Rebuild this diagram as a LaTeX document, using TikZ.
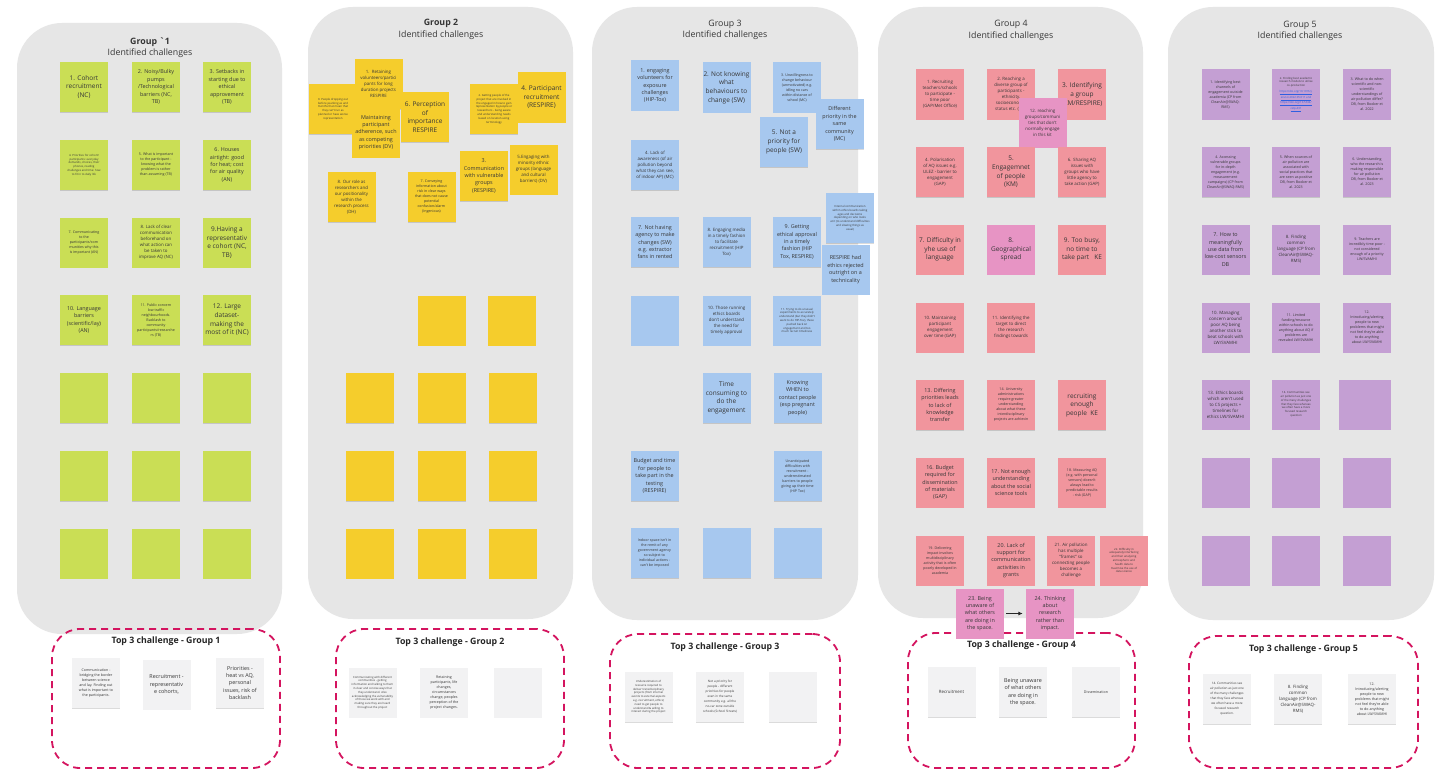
\documentclass[tikz,border=0pt]{standalone}
\usepackage{fontspec}
\setmainfont{Open Sans}
\usetikzlibrary{arrows.meta,shadows}
\definecolor{panelg}{HTML}{E6E6E6}
\definecolor{gnote}{HTML}{CADE55}
\definecolor{ynote}{HTML}{F5CD2C}
\definecolor{bnote}{HTML}{A7C8EF}
\definecolor{rnote}{HTML}{F1959D}
\definecolor{pnote}{HTML}{E794C4}
\definecolor{vnote}{HTML}{C49FD3}
\definecolor{wnote}{HTML}{F2F2F3}
\definecolor{dashm}{HTML}{D4145F}
\definecolor{txt}{HTML}{363636}
\definecolor{linkb}{HTML}{2F5FE0}
\tikzset{
  fB/.style={font=\fontsize{6.5}{8.6}\selectfont},
  fM/.style={font=\fontsize{5.4}{7.4}\selectfont},
  fS/.style={font=\fontsize{4.4}{6.0}\selectfont},
  fT/.style={font=\fontsize{3.6}{5.0}\selectfont},
  fV/.style={font=\fontsize{3.1}{5.0}\selectfont},
  fU/.style={font=\fontsize{2.8}{3.8}\selectfont},
  panel/.style={fill=panelg, rounded corners=45, inner sep=0},
  gttl/.style={align=flush center, text=txt, font=\fontsize{8.8}{11.5}\selectfont, inner sep=0},
  tttl/.style={text=black!85, font=\bfseries\fontsize{8.8}{10}\selectfont, inner sep=0},
  note/.style={minimum width=48, minimum height=50, inner sep=1, text width=46, align=flush center, text=txt,
    drop shadow={shadow xshift=0.3pt, shadow yshift=-0.9pt, opacity=0.14, fill=black}},
  gn/.style={note, fill=gnote},
  yn/.style={note, fill=ynote},
  bn/.style={note, fill=bnote},
  rn/.style={note, fill=rnote},
  pn/.style={note, fill=pnote},
  vn/.style={note, fill=vnote},
  wn/.style={note, fill=wnote},
  topbox/.style={draw=dashm, line width=1.8, dash pattern=on 7pt off 5pt, rounded corners=28, inner sep=0},
  arr/.style={-{Latex[length=4.5pt,width=4pt]}, line width=1.1, black!85, shorten <=2pt, shorten >=3pt}
}
\begin{document}
\begin{tikzpicture}[x=1pt,y=-1pt]
\useasboundingbox[fill=white] (0,0) rectangle (1435,776);
% ---------- panels ----------
\node[panel, minimum width=265, minimum height=611] (g1) at (149.5,328.5) {};
\node[panel, minimum width=265, minimum height=612] (g2) at (440.5,313) {};
\node[panel, minimum width=266, minimum height=613] (g3) at (725,313.5) {};
\node[panel, minimum width=265, minimum height=611] (g4) at (1010.5,312.5) {};
\node[panel, minimum width=266, minimum height=613] (g5) at (1301,313.5) {};
% ---------- Top 3 boxes ----------
\node[topbox, minimum width=228, minimum height=139] (t1) at (166,698.5) {};
\node[topbox, minimum width=228, minimum height=139] (t2) at (450,698.5) {};
\node[topbox, minimum width=230, minimum height=134] (t3) at (725,701) {};
\node[topbox, minimum width=227, minimum height=135] (t4) at (1021.5,700.5) {};
\node[topbox, minimum width=229, minimum height=132] (t5) at (1303.5,702) {};
% ---------- titles ----------
\node[gttl] (h1) at (150,47.5) {\textbf{Group \textasciigrave1}\\Identified challenges};
\node[gttl] (h2) at (441,29.5) {\textbf{Group 2}\\Identified challenges};
\node[gttl] (h3) at (725,30) {Group 3\\Identified challenges};
\node[gttl] (h4) at (1011,30.5) {Group 4\\Identified challenges};
\node[gttl] (h5) at (1300,31) {Group 5\\Identified challenges};
% ---------- Group 1 ----------
\node[gn,fB] (a1) at (84,87) {1. Cohort\\recruitment\\(NC)};
\node[gn,fM] (a2) at (156,87) {2. Noisy/Bulky\\pumps\\/Technological\\barriers (NC,\\TB)};
\node[gn,fM] (a3) at (227,87) {3. Setbacks in\\starting due to\\ethical\\approvement\\(TB)};
\node[gn,fU] (a4) at (84,165) {4. Priorities for cohort/\\participants: everyday\\demands, choices, their\\phones, reading\\challenges and time: how\\to fit in to daily life};
\node[gn,fT] (a5) at (156,165) {5. What is important\\to the participant -\\knowing what the\\problem is rather\\than assuming (TB)};
\node[gn,fM] (a6) at (227,165) {6. Houses\\airtight: good\\for heat; cost\\for air quality\\(AN)};
\node[gn,fT] (a7) at (84,242.5) {7. Communicating\\to the\\participants/com\\munities why this\\is important (AN)};
\node[gn,fS] (a8) at (156,242.5) {8. Lack of clear\\communication\\beforehand on\\what action can\\be taken to\\improve AQ (NC)};
\node[gn,fB] (a9) at (227,242.5) {9.Having a\\representativ\\e cohort (NC,\\TB)};
\node[gn,fM] (a10) at (84,320) {10. Language\\barriers\\(scientific/lay)\\(AN)};
\node[gn,fT] (a11) at (156,320) {11. Public concern\\low traffic\\neighbourhoods.\\Backlash to\\community\\participants/researche\\rs (TB)};
\node[gn,fB] (a12) at (227,320) {12. Large\\dataset-\\making the\\most of it (NC)};
\node[gn] (a13) at (84,398) {}; \node[gn] (a14) at (156,398) {}; \node[gn] (a15) at (227,398) {};
\node[gn] (a16) at (84,476) {}; \node[gn] (a17) at (156,476) {}; \node[gn] (a18) at (227,476) {};
\node[gn] (a19) at (84,553.5) {}; \node[gn] (a20) at (156,553.5) {}; \node[gn] (a21) at (227,553.5) {};
% ---------- Group 2 ----------
\node[yn,fS] (y1) at (378.5,84) {1.\ \ Retaining\\volunteers/partici\\pants for long\\duration projects\\RESPIRE};
\node[yn,fU] (y0) at (333,109) {0. People dropping out\\before yearlong as and\\months that mean that\\they can't run as\\planned or have worse\\representation};
\node[yn,fM] (yM) at (376,132.5) {Maintaining\\participant\\adherence, such\\as competing\\priorities (DV)};
\node[yn,fB] (y6) at (425,117) {6. Perception\\of\\importance\\RESPIRE};
\node[yn,fU] (y2) at (494,109) {2. Getting people of the\\project that are involved in\\the engaged in how to gain\\representation by people or\\researchers - being aware\\and understanding needs\\based on location using\\terminology};
\node[yn,fB] (y4) at (541.5,97.5) {4. Participant\\recruitment\\(RESPIRE)};
\node[yn,fM] (y3) at (484,176) {3.\\Communication\\with vulnerable\\groups\\(RESPIRE)};
\node[yn,fS] (y5) at (533.5,169.5) {5.Engaging with\\minority ethnic\\groups (language\\and cultural\\barriers) (DV)};
\node[yn,fS] (y8) at (351.5,197) {8. Our role as\\researchers and\\our positionality\\within the\\research process\\(DH)};
\node[yn,fT] (y7) at (431.5,197) {7. Conveying\\information about\\risk in clear ways\\that does not cause\\potential\\confusion/alarm\\(Ingenious)};
\node[yn] (y9) at (441.5,320.5) {}; \node[yn] (y10) at (512,320.5) {};
\node[yn] (y11) at (370,398) {}; \node[yn] (y12) at (441.5,398) {}; \node[yn] (y13) at (512.5,398) {};
\node[yn] (y14) at (370,476) {}; \node[yn] (y15) at (441.5,476) {}; \node[yn] (y16) at (512.5,476) {};
\node[yn] (y17) at (370,553.5) {}; \node[yn] (y18) at (441.5,553.5) {}; \node[yn] (y19) at (512.5,553.5) {};
% ---------- Group 3 ----------
\node[bn,fM] (b1) at (655,85.5) {1. engaging\\volunteers for\\exposure\\challenges\\(HIP-Tox)};
\node[bn,fB] (b2) at (726.5,87.5) {2. Not knowing\\what\\behaviours to\\change (SW)};
\node[bn,fT] (b3) at (797,87.5) {3. Unwillingness to\\change behaviour\\(unmotivated) e.g.\\idling no cars\\within distance of\\school (MC)};
\node[bn,fB] (b5) at (784,142) {5. Not a\\priority for\\people (SW)};
\node[bn,fM] (bD) at (839.5,124) {Different\\priority in the\\same\\community\\(MC)};
\node[bn,fS] (b4) at (655,165) {4. Lack of\\awareness (of air\\pollution beyond\\what they can see,\\of indoor AP) (MC)};
\node[bn,fM] (b7) at (655,242) {7. Not having\\agency to make\\changes (SW)\\e.g. extractor\\fans in rented};
\node[bn,fS] (b8) at (726.5,242) {8. Engaging media\\in a timely fashion\\to facilitate\\recruitment (HIP\\Tox)};
\node[bn,fM] (b9) at (797,242) {9. Getting\\ethical approval\\in a timely\\fashion (HIP\\Tox, RESPIRE)};
\node[bn,fU] (bI) at (850,218) {Internal communication\\within ethics boards taking\\ages and decisions\\depending on who looks\\at it (to understand difficulties\\and slowing things as\\usual)};
\node[bn,fM] (bR) at (845.5,269.5) {RESPIRE had\\ethics rejected\\outright on a\\technicality};
\node[bn] (b12) at (655,320.5) {};
\node[bn,fS] (b10) at (726.5,320.5) {10. Those running\\ethics boards\\don't understand\\the need for\\timely approval};
\node[bn,fU] (b11) at (797,320.5) {11. Trying to do unusual\\experiments to accurately\\understand (but they didn't\\want to do HIP-Tox), these\\pushed back on\\engagement and too\\much recruit timeliness};
\node[bn,fB] (bT) at (726.5,398) {Time\\consuming to\\do the\\engagement};
\node[bn,fM] (bK) at (797.5,398) {Knowing\\WHEN to\\contact people\\(esp pregnant\\people)};
\node[bn,fM] (bB) at (654.5,476) {Budget and time\\for people to\\take part in the\\testing\\(RESPIRE)};
\node[bn,fT] (bU) at (797.5,476) {Unanticipated\\difficulties with\\recruitment -\\underestimated\\barriers to people\\giving up their time\\(HIP Tox)};
\node[bn,fT] (bS) at (654.5,553) {Indoor space isn't in\\the remit of any\\government agency\\so subject to\\individual actions -\\can't be imposed};
\node[bn] (b13) at (726.5,553) {}; \node[bn] (b14) at (797.5,553) {};
% ---------- Group 4 ----------
\node[rn,fS] (r1) at (940,94.5) {1. Recruiting\\teachers/schools\\to participate -\\time poor\\(GAP/Met Office)};
\node[rn,fS] (r2) at (1011,94.5) {2. Reaching a\\diverse group of\\participants -\\ethnicity,\\socioeconomic\\status etc. (KM)};
\node[rn,fB] (r3) at (1082,94.5) {3. Identifying\\a group\\(KM/RESPIRE)};
\node[pn,fS] (r12) at (1042.5,122.5) {12. reaching\\groups/communi\\ties that don't\\normally engage\\in this kit};
\node[rn,fS] (r4) at (940,172) {4. Polarisation\\of AQ issues e.g.\\ULEZ - barrier to\\engagement\\(GAP)};
\node[rn,fB] (r5) at (1011,172) {5.\\Engagemnet\\of people\\(KM)};
\node[rn,fS] (r6) at (1082,172) {6. Sharing AQ\\issues with\\groups who have\\little agency to\\take action (GAP)};
\node[rn,fB] (r7) at (940,249.5) {7. Difficulty in\\yhe use of\\language};
\node[pn,fB] (r8) at (1011,249.5) {8.\\Geographical\\spread};
\node[rn,fB] (r9) at (1082,249.5) {9. Too busy,\\no time to\\take part\ \ \ KE};
\node[rn,fS] (r10) at (940,327.5) {10. Maintaining\\participant\\engagement\\over time (GAP)};
\node[rn,fS] (r11) at (1011,327.5) {11. Identifying the\\target to direct\\the research\\findings towards};
\node[rn,fM] (r13) at (940,405) {13. Differing\\priorities leads\\to lack of\\knowledge\\transfer};
\node[rn,fT] (r14) at (1011,405) {14. University\\administrations\\require greater\\understanding\\about what these\\interdisciplinary\\projects are achievin};
\node[rn,fB] (r15) at (1082,405) {recruiting\\enough\\people\ \ KE};
\node[rn,fM] (r16) at (940,482.5) {16. Budget\\required for\\dissemination\\of materials\\(GAP)};
\node[rn,fM] (r17) at (1011,482.5) {17. Not enough\\understanding\\about the social\\science tools};
\node[rn,fT] (r18) at (1082,482.5) {18. Measuring AQ\\(e.g. with personal\\sensors) doesn't\\always lead to\\predictable results\\- risk (GAP)};
\node[rn,fT] (r19) at (940,560.5) {19. Delivering\\impact involves\\multidisciplinary\\activity that is often\\poorly developed in\\academia};
\node[rn,fM] (r20) at (1011,560.5) {20. Lack of\\support for\\communication\\activities in\\grants};
\node[rn,fS] (r21) at (1071,560.5) {21. Air pollution\\has multiple\\``frames'' so\\connecting people\\becomes a\\challenge};
\node[rn,fU] (r22) at (1124,560.5) {22. Difficulty in\\adequately interfacing\\and then analysing\\atmospheric and\\health data to\\maximise the use of\\data science};
\node[pn,fM] (r23) at (980,613.5) {23. Being\\unaware of\\what others\\are doing in\\the space.};
\node[pn,fM] (r24) at (1050,613.5) {24. Thinking\\about\\research\\rather than\\impact.};
\draw[arr] (r23) -- (r24);
% ---------- Group 5 ----------
\node[vn,fT] (v1) at (1225.5,94.5) {1. Identifying best\\channels of\\engagement outside\\academia (CP from\\CleanAir@SWAQ-\\RMS)};
\node[vn,fU] (v2) at (1296,94.5) {2. Finding best academic\\research models to utilise\\co-production\\[2pt]{\color{linkb}\underline{https://doi.org/10.1016/j.}}\\{\color{linkb}\underline{envsci.2022.05.011 and}}\\{\color{linkb}\underline{https://doi.org/10.5334/}}\\{\color{linkb}\underline{cstp.431}}};
\node[vn,fT] (v3) at (1367,94.5) {3. What to do when\\scientific and non-\\scientific\\understandings of\\air pollution differ?\\DB, from Booker et\\al. 2022};
\node[vn,fT] (v4) at (1225.5,172) {4. Accessing\\vulnerable groups\\for in-depth\\engagement (e.g.\\measurement\\campaigns) (CP from\\CleanAir@SWAQ-RMS)};
\node[vn,fT] (v5) at (1296,172) {5. When sources of\\air pollution are\\associated with\\social practices that\\are seen as positive\\DB, from Booker et\\al. 2023};
\node[vn,fT] (v6) at (1367,172) {6. Understanding\\who the research is\\making responsible\\for air pollution\\DB, from Booker et\\al. 2023};
\node[vn,fM] (v7) at (1225.5,249.5) {7. How to\\meaningfully\\use data from\\low-cost sensors\\DB};
\node[vn,fS] (v8) at (1296,249.5) {8. Finding\\common\\language (CP from\\CleanAir@SWAQ-\\RMS)};
\node[vn,fT] (v9) at (1367,249.5) {9. Teachers are\\incredibly time poor -\\not considered\\enough of a priority\\LW/SVAMHI};
\node[vn,fS] (v10) at (1225.5,327.5) {10. Managing\\concern around\\poor AQ being\\another stick to\\beat schools with\\LW/SVAMHI};
\node[vn,fT] (v11) at (1296,327.5) {11. Limited\\funding/resource\\within schools to do\\anything about AQ if\\problems are\\revealed LW/SVAMHI};
\node[vn,fT] (v12) at (1367,327.5) {12.\\Introducing/alerting\\people to new\\problems that might\\not feel they're able\\to do anything\\about LW/SVAMHI};
\node[vn,fS] (v13) at (1225.5,404.5) {13. Ethics boards\\which aren't used\\to CS projects +\\timelines for\\ethics LW/SVAMHI};
\node[vn,fU] (v14) at (1296,404.5) {14. Communities see\\air pollution as just one\\of the many challenges\\that they face whereas\\we often have a more\\focused research\\question};
\node[vn, minimum width=52] (v15) at (1365,404.5) {};
\node[vn] (v16) at (1225.5,482.5) {}; \node[vn] (v17) at (1296,482.5) {}; \node[vn] (v18) at (1367,482.5) {};
\node[vn] (v19) at (1225.5,560.5) {}; \node[vn] (v20) at (1296,560.5) {}; \node[vn] (v21) at (1367,560.5) {};
% ---------- Top 3 contents ----------
\node[tttl] (t1h) at (166,641) {Top 3 challenge - Group 1};
\node[tttl] (t2h) at (450,642) {Top 3 challenge - Group 2};
\node[tttl] (t3h) at (725,647) {Top 3 challenge - Group 3};
\node[tttl] (t4h) at (1021.5,645) {Top 3 challenge - Group 4};
\node[tttl] (t5h) at (1303.5,649) {Top 3 challenge - Group 5};
\node[wn,fT] (w11) at (96,683) {Communication -\\bridging the border\\between science\\and lay. Finding out\\what is important to\\the participants.};
\node[wn,fM] (w12) at (166.5,684.5) {Recruitment -\\representativ\\e cohorts,};
\node[wn,fM] (w13) at (240,683) {Priorities -\\heat vs AQ,\\personal\\issues, risk of\\backlash};
\node[wn,fU] (w21) at (372.5,692.5) {Communicating with different\\communities - getting\\information and talking to them\\in clear and concise ways that\\they understand. Also\\acknowledging the vulnerability\\of those we work with and\\making sure they are heard\\throughout the project};
\node[wn,fT] (w22) at (444,692.5) {Retaining\\participants, life\\changes,\\circumstances\\change, peoples\\perception of the\\project changes.};
\node[wn] (w23) at (517.5,692.5) {};
\node[wn,fU] (w31) at (648.5,697) {Underestimation of\\resource required to\\deliver transdisciplinary\\projects (from internal\\events to external aspects\\e.g. recruitment, ethics)\\need to get people to\\understand \& willing to\\interact during the project};
\node[wn,fV] (w32) at (720,697) {Not a priority for\\people - different\\priorities for people\\even in the same\\community e.g. all the\\no-car zone outside\\schools (School Streets)};
\node[wn] (w33) at (793,697) {};
\node[wn,fS] (w41) at (951.5,692) {Recruitment};
\node[wn,fM] (w42) at (1023,692) {Being unaware\\of what others\\are doing in\\the space.};
\node[wn,fT] (w43) at (1096,692) {Dissemination};
\node[wn,fV] (w51) at (1227,699) {14. Communities see\\air pollution as just one\\of the many challenges\\that they face whereas\\we often have a more\\focused research\\question.};
\node[wn,fS] (w52) at (1298,699) {8. Finding\\common\\language (CP from\\CleanAir@SWAQ-\\RMS)};
\node[wn,fT] (w53) at (1372,699) {12.\\Introducing/alerting\\people to new\\problems that might\\not feel they're able\\to do anything\\about LW/SVAMHI};
\end{tikzpicture}
\end{document}
